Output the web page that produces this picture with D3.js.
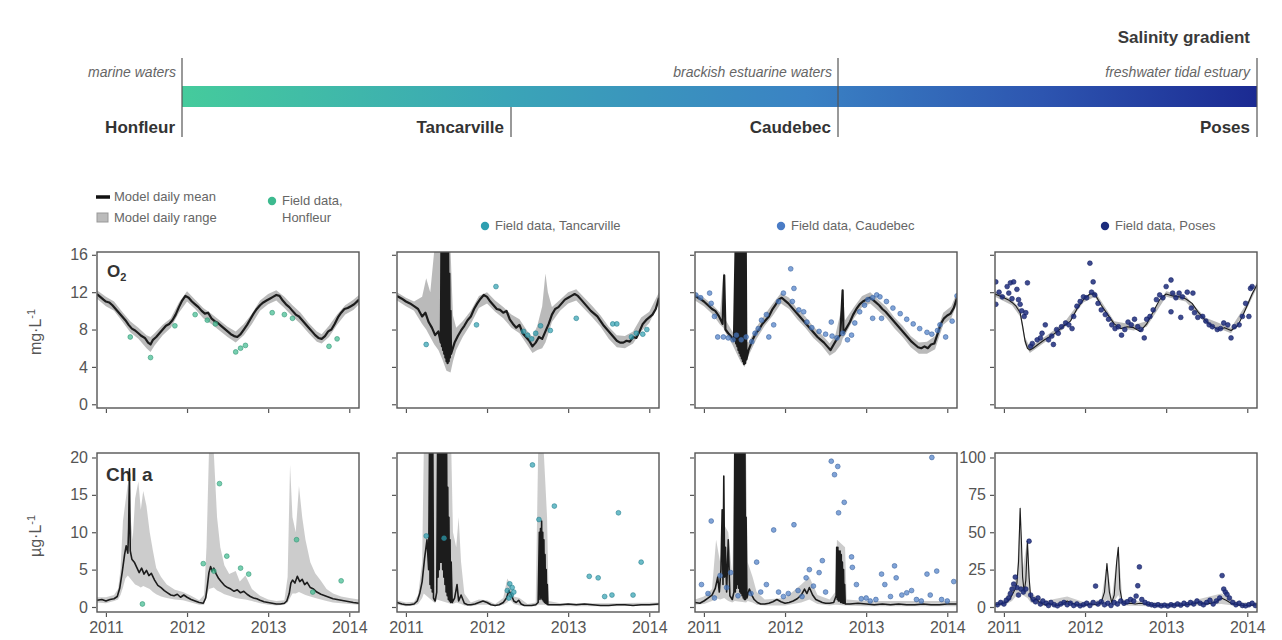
<!DOCTYPE html>
<html lang="en">
<head>
<meta charset="UTF-8">
<title>salinity-gradient</title>
<style>
    body { margin: 0; background: #fff; }
    svg { font-family: "Liberation Sans", Arial, sans-serif; }
    .tick line { stroke: #555; stroke-width: 1.2px; }
    .tick text { fill: #555; }
</style>
<script src="https://cdn.jsdelivr.net/npm/d3@7"></script>
</head>
<body>
<script>

// ---- stations / zones along the salinity gradient
let stations = ["Honfleur", "Tancarville", "Caudebec", "Poses"];
let zones = ["marine waters", "brackish estuarine waters", "freshwater tidal estuary"];
let years = [2011, 2012, 2013, 2014];
let o2Ticks = [0, 4, 8, 12, 16];
let chlTicks = [0, 5, 10, 15, 20];
let chlPosesTicks = [0, 25, 50, 75, 100];

// ---- O2 (mg/L): [decimal year, value] ; ranges [year, low, high]
let honO2Mean = [[2010.89,11.8],[2010.93,11.5],[2010.97,11.2],[2011.0,11.0],[2011.04,10.9],[2011.08,10.6],[2011.12,10.2],[2011.16,9.8],[2011.2,9.4],[2011.24,9.0],[2011.28,8.5],[2011.32,8.1],[2011.36,7.9],[2011.4,7.6],[2011.44,7.3],[2011.48,7.1],[2011.52,6.6],[2011.55,6.4],[2011.58,6.9],[2011.62,7.2],[2011.66,7.6],[2011.7,8.0],[2011.74,8.4],[2011.78,8.6],[2011.82,9.0],[2011.86,9.6],[2011.9,10.4],[2011.94,11.1],[2011.98,11.6],[2012.02,11.4],[2012.06,11.0],[2012.1,10.7],[2012.14,10.4],[2012.18,10.0],[2012.22,9.7],[2012.26,9.8],[2012.3,9.2],[2012.34,8.9],[2012.38,8.7],[2012.42,8.4],[2012.46,8.1],[2012.5,7.8],[2012.54,7.5],[2012.58,7.3],[2012.62,7.2],[2012.66,7.5],[2012.7,8.0],[2012.74,8.5],[2012.78,9.1],[2012.82,9.7],[2012.86,10.2],[2012.9,10.6],[2012.94,10.9],[2012.98,11.1],[2013.02,11.3],[2013.06,11.5],[2013.1,11.7],[2013.14,11.6],[2013.18,11.1],[2013.22,10.7],[2013.26,10.4],[2013.3,10.0],[2013.34,9.6],[2013.38,9.4],[2013.42,9.0],[2013.46,8.6],[2013.5,8.2],[2013.54,7.8],[2013.58,7.4],[2013.62,7.1],[2013.66,7.0],[2013.7,7.3],[2013.74,7.8],[2013.78,8.0],[2013.82,8.6],[2013.86,9.3],[2013.9,9.8],[2013.94,10.2],[2013.98,10.3],[2014.02,10.5],[2014.06,10.7],[2014.12,11.2]];
let honO2Range = [[2010.89,11.3,12.2],[2011.0,10.5,11.5],[2011.1,10.0,11.0],[2011.2,8.9,9.9],[2011.3,7.7,8.9],[2011.4,7.0,8.2],[2011.5,6.0,7.4],[2011.55,5.6,7.2],[2011.6,6.3,7.6],[2011.7,7.4,8.5],[2011.8,8.2,9.2],[2011.9,9.8,10.9],[2012.0,11.0,12.1],[2012.1,10.2,11.2],[2012.2,9.2,10.3],[2012.3,8.6,9.7],[2012.4,7.9,9.0],[2012.5,7.2,8.3],[2012.6,6.6,7.8],[2012.7,7.4,8.6],[2012.8,8.6,9.7],[2012.9,10.0,11.1],[2013.0,10.7,11.8],[2013.1,11.1,12.2],[2013.2,10.3,11.5],[2013.3,9.4,10.6],[2013.4,8.6,9.8],[2013.5,7.6,8.7],[2013.6,6.7,7.8],[2013.66,6.5,7.5],[2013.75,7.2,8.4],[2013.85,8.5,9.6],[2013.95,9.6,10.6],[2014.05,10.1,11.2],[2014.12,10.7,11.7]];
let honO2Field = [[2011.3,7.2],[2011.55,5.0],[2011.85,8.4],[2012.1,9.6],[2012.25,9.0],[2012.35,8.6],[2012.6,5.6],[2012.66,6.0],[2012.72,6.3],[2013.05,9.8],[2013.2,9.6],[2013.3,9.2],[2013.75,6.2],[2013.85,7.0]];

let tanO2Mean = [[2010.89,11.6],[2010.95,11.3],[2011.0,11.0],[2011.05,10.8],[2011.1,10.5],[2011.15,10.2],[2011.2,9.4],[2011.24,9.8],[2011.28,8.8],[2011.32,8.2],[2011.36,7.4],[2011.4,7.8],[2011.43,6.6],[2011.437,16.5],[2011.444,6.2],[2011.451,16.5],[2011.458,5.8],[2011.465,16.5],[2011.472,5.4],[2011.479,16.5],[2011.486,5.0],[2011.493,16.5],[2011.5,4.6],[2011.507,16.5],[2011.514,4.4],[2011.521,16.5],[2011.528,4.6],[2011.535,14.0],[2011.542,5.0],[2011.55,10.0],[2011.556,5.4],[2011.6,6.6],[2011.64,7.3],[2011.68,7.9],[2011.72,8.4],[2011.76,9.0],[2011.8,9.4],[2011.84,10.2],[2011.88,10.8],[2011.92,11.3],[2011.96,11.7],[2012.0,11.5],[2012.04,11.0],[2012.08,10.6],[2012.12,10.2],[2012.16,10.1],[2012.2,9.8],[2012.24,10.0],[2012.28,9.1],[2012.32,8.6],[2012.36,8.2],[2012.4,8.5],[2012.44,7.6],[2012.48,7.2],[2012.52,6.8],[2012.56,6.2],[2012.6,6.6],[2012.64,7.2],[2012.68,7.0],[2012.72,7.8],[2012.76,8.6],[2012.8,9.6],[2012.84,10.2],[2012.88,10.4],[2012.92,10.8],[2012.96,11.2],[2013.0,11.4],[2013.04,11.6],[2013.08,11.8],[2013.12,11.6],[2013.16,11.2],[2013.2,10.8],[2013.24,10.4],[2013.28,10.0],[2013.32,9.7],[2013.36,9.4],[2013.4,8.9],[2013.44,8.4],[2013.48,8.0],[2013.52,7.6],[2013.56,7.2],[2013.6,6.8],[2013.64,6.6],[2013.68,6.6],[2013.72,6.8],[2013.76,6.7],[2013.8,7.2],[2013.84,7.1],[2013.88,7.8],[2013.92,8.6],[2013.96,9.0],[2014.0,9.3],[2014.04,9.6],[2014.08,10.2],[2014.12,11.4]];
let tanO2Range = [[2010.89,11.1,12.0],[2011.0,10.5,11.4],[2011.1,10.0,11.0],[2011.2,8.6,11.5],[2011.25,8.0,13.5],[2011.3,7.2,12.0],[2011.35,6.4,16.5],[2011.4,5.8,16.5],[2011.45,4.8,16.5],[2011.5,3.6,16.5],[2011.55,3.4,16.5],[2011.58,4.6,9.5],[2011.62,5.8,8.2],[2011.7,7.2,8.9],[2011.8,8.6,10.0],[2011.9,10.3,11.6],[2012.0,10.8,12.0],[2012.1,9.9,11.1],[2012.2,9.2,10.4],[2012.3,8.2,9.6],[2012.4,7.6,9.1],[2012.5,6.3,7.8],[2012.56,5.5,7.2],[2012.62,5.8,8.4],[2012.68,6.0,10.5],[2012.72,6.6,14.0],[2012.75,7.4,12.0],[2012.8,8.8,10.4],[2012.9,10.0,11.2],[2013.0,10.8,12.0],[2013.1,11.1,12.3],[2013.2,10.2,11.4],[2013.3,9.3,10.5],[2013.4,8.3,9.5],[2013.5,7.0,8.3],[2013.6,6.1,7.4],[2013.7,6.0,7.3],[2013.8,6.5,7.8],[2013.9,7.8,9.3],[2014.0,8.7,9.9],[2014.12,10.8,12.0]];
let tanO2Field = [[2011.25,6.4],[2011.87,8.5],[2012.11,12.6],[2012.45,7.8],[2012.5,7.4],[2012.55,7.0],[2012.6,7.6],[2012.66,8.4],[2012.78,7.9],[2013.1,9.2],[2013.55,8.6],[2013.6,8.6],[2013.78,7.2],[2013.84,7.6],[2013.92,7.5],[2013.97,8.0]];

let cauO2Mean = [[2010.89,11.6],[2010.95,11.3],[2011.0,11.0],[2011.05,10.6],[2011.1,10.2],[2011.14,10.0],[2011.18,9.5],[2011.21,9.0],[2011.23,8.6],[2011.25,13.8],[2011.265,8.0],[2011.3,7.6],[2011.34,7.2],[2011.37,6.8],[2011.39,16.5],[2011.397,6.5],[2011.404,16.5],[2011.411,6.2],[2011.418,16.5],[2011.425,5.8],[2011.432,16.5],[2011.439,5.5],[2011.446,16.5],[2011.453,5.2],[2011.46,16.5],[2011.467,4.9],[2011.474,16.5],[2011.481,4.6],[2011.488,16.5],[2011.495,4.3],[2011.502,16.5],[2011.509,4.4],[2011.516,16.5],[2011.523,4.8],[2011.55,5.8],[2011.6,6.9],[2011.64,7.6],[2011.68,8.0],[2011.72,8.6],[2011.76,9.0],[2011.8,9.4],[2011.84,10.1],[2011.88,10.6],[2011.92,11.2],[2011.96,11.4],[2012.0,11.1],[2012.04,10.8],[2012.08,10.4],[2012.12,10.0],[2012.16,9.6],[2012.2,9.2],[2012.24,8.8],[2012.28,8.4],[2012.32,8.0],[2012.36,7.6],[2012.4,7.2],[2012.44,6.9],[2012.48,6.6],[2012.52,6.2],[2012.56,5.8],[2012.6,6.4],[2012.64,7.0],[2012.68,7.4],[2012.7,10.5],[2012.71,12.2],[2012.72,7.6],[2012.76,8.2],[2012.8,8.8],[2012.84,9.6],[2012.88,10.2],[2012.92,10.7],[2012.96,11.0],[2013.0,11.2],[2013.04,11.4],[2013.08,11.2],[2013.12,10.9],[2013.16,10.6],[2013.2,10.2],[2013.24,9.9],[2013.28,9.5],[2013.32,9.1],[2013.36,8.7],[2013.4,8.3],[2013.44,7.9],[2013.48,7.5],[2013.52,7.1],[2013.56,6.7],[2013.6,6.4],[2013.64,6.1],[2013.68,6.0],[2013.72,6.2],[2013.76,6.0],[2013.8,6.4],[2013.84,6.5],[2013.88,7.5],[2013.92,8.6],[2013.96,9.2],[2014.0,9.5],[2014.04,9.7],[2014.08,10.3],[2014.12,11.4]];
let cauO2Range = [[2010.89,11.1,12.0],[2011.0,10.5,11.4],[2011.1,9.7,10.7],[2011.2,8.5,9.8],[2011.24,8.2,14.2],[2011.27,7.6,9.0],[2011.35,6.4,7.8],[2011.45,4.6,7.2],[2011.5,4.0,6.8],[2011.55,5.2,6.6],[2011.65,7.0,8.3],[2011.75,8.4,9.6],[2011.85,9.5,10.8],[2011.95,10.8,11.9],[2012.05,10.2,11.4],[2012.15,9.1,10.2],[2012.25,8.2,9.4],[2012.35,7.1,8.3],[2012.45,6.3,7.5],[2012.55,5.2,6.5],[2012.62,5.6,7.4],[2012.69,6.4,10.0],[2012.71,7.0,12.4],[2012.74,7.4,9.0],[2012.85,9.2,10.4],[2012.95,10.4,11.6],[2013.05,10.8,12.0],[2013.15,10.0,11.2],[2013.25,9.2,10.4],[2013.35,8.1,9.3],[2013.45,7.2,8.4],[2013.55,6.1,7.3],[2013.65,5.4,6.6],[2013.75,5.4,6.7],[2013.85,5.9,7.3],[2013.95,8.5,9.8],[2014.05,9.2,10.5],[2014.12,10.8,12.0]];
let cauO2Field = [[2010.9,11.7],[2010.96,11.4],[2011.07,11.9],[2011.09,10.8],[2011.13,9.4],[2011.17,7.2],[2011.24,7.2],[2011.3,7.1],[2011.36,6.9],[2011.4,7.4],[2011.46,6.9],[2011.52,7.2],[2011.59,6.7],[2011.63,7.6],[2011.67,8.1],[2011.71,9.0],[2011.77,9.6],[2011.8,7.2],[2011.86,8.5],[2011.92,11.0],[2011.98,11.9],[2012.07,14.5],[2012.09,11.0],[2012.11,12.4],[2012.17,10.1],[2012.23,9.9],[2012.27,8.8],[2012.33,8.2],[2012.42,7.8],[2012.5,7.5],[2012.57,8.8],[2012.58,7.3],[2012.64,7.1],[2012.71,7.6],[2012.77,6.9],[2012.82,7.4],[2012.86,8.7],[2012.92,9.9],[2012.98,10.6],[2013.02,11.2],[2013.08,11.4],[2013.13,11.7],[2013.17,11.5],[2013.25,11.0],[2013.08,9.2],[2013.19,9.2],[2013.33,10.3],[2013.42,9.7],[2013.5,9.1],[2013.58,8.6],[2013.66,8.1],[2013.75,7.7],[2013.81,7.5],[2013.88,7.9],[2013.91,8.5],[2013.98,7.2],[2014.06,8.9],[2014.12,11.6]];

let posO2Mean = [[2010.89,11.8],[2010.95,11.6],[2011.0,11.4],[2011.05,11.2],[2011.1,10.9],[2011.15,10.5],[2011.2,9.8],[2011.23,8.4],[2011.26,6.8],[2011.29,6.0],[2011.32,5.8],[2011.36,6.0],[2011.42,6.4],[2011.5,6.9],[2011.58,7.3],[2011.66,7.8],[2011.74,8.4],[2011.82,8.9],[2011.9,10.2],[2011.98,11.2],[2012.06,11.8],[2012.12,11.8],[2012.2,10.6],[2012.28,9.6],[2012.36,8.6],[2012.44,8.1],[2012.52,8.3],[2012.6,8.2],[2012.68,7.8],[2012.76,8.6],[2012.84,9.9],[2012.92,11.2],[2013.0,11.8],[2013.08,11.6],[2013.16,11.5],[2013.24,11.3],[2013.32,10.8],[2013.4,9.8],[2013.48,9.0],[2013.56,8.4],[2013.64,8.0],[2013.72,8.2],[2013.8,7.9],[2013.88,8.4],[2013.94,9.4],[2014.0,10.6],[2014.06,11.8],[2014.12,12.8]];
let posO2Range = [[2010.89,11.5,12.1],[2011.1,10.6,11.2],[2011.2,9.4,10.2],[2011.26,6.4,7.2],[2011.32,5.5,6.1],[2011.5,6.6,7.2],[2011.74,8.1,8.7],[2011.98,10.9,11.5],[2012.12,11.5,12.1],[2012.36,8.3,8.9],[2012.6,7.9,8.5],[2012.76,8.3,8.9],[2013.0,11.5,12.1],[2013.24,11.0,11.6],[2013.48,8.7,9.3],[2013.8,7.6,8.2],[2014.0,10.3,10.9],[2014.12,12.5,13.1]];
let posO2Field = [[2010.90,13.1],[2010.94,12.0],[2010.98,11.5],[2010.90,10.7],[2011.04,12.6],[2011.06,11.9],[2011.10,11.3],[2011.08,13.0],[2011.12,13.1],[2011.16,12.3],[2011.18,11.2],[2011.20,10.7],[2011.22,10.0],[2011.25,9.4],[2011.29,13.0],[2011.27,9.8],[2011.33,6.2],[2011.35,6.5],[2011.41,6.9],[2011.45,7.1],[2011.47,7.6],[2011.51,8.5],[2011.55,6.9],[2011.59,7.3],[2011.61,6.4],[2011.65,8.0],[2011.67,7.6],[2011.71,8.3],[2011.76,8.7],[2011.80,8.5],[2011.84,8.1],[2011.86,9.4],[2011.90,10.5],[2011.94,11.0],[2011.98,11.5],[2012.02,11.4],[2012.06,15.1],[2012.10,13.1],[2012.08,12.0],[2012.12,11.7],[2012.16,10.8],[2012.20,10.1],[2012.25,9.6],[2012.29,9.1],[2012.33,8.5],[2012.37,8.1],[2012.41,8.3],[2012.45,7.4],[2012.49,8.0],[2012.53,8.8],[2012.57,8.5],[2012.61,9.1],[2012.65,8.3],[2012.69,8.0],[2012.73,7.1],[2012.76,9.1],[2012.80,9.4],[2012.84,10.1],[2012.88,11.2],[2012.92,11.7],[2012.96,11.4],[2013.00,12.6],[2013.06,13.3],[2013.08,11.9],[2013.06,9.9],[2013.12,11.4],[2013.16,11.9],[2013.20,11.5],[2013.26,12.0],[2013.33,11.9],[2013.18,9.3],[2013.31,10.3],[2013.35,9.8],[2013.39,9.3],[2013.45,9.4],[2013.49,8.9],[2013.53,8.5],[2013.57,8.3],[2013.63,8.0],[2013.67,8.1],[2013.71,8.7],[2013.76,8.5],[2013.80,7.1],[2013.84,8.3],[2013.90,8.5],[2013.94,9.4],[2013.98,10.8],[2014.02,9.4],[2014.04,12.4],[2014.06,12.6]];

// ---- Chl a (ug/L)
let honChlMean = [[2010.89,0.9],[2010.95,1.0],[2011.0,0.8],[2011.05,1.0],[2011.1,1.1],[2011.14,1.4],[2011.17,2.5],[2011.2,4.6],[2011.23,7.0],[2011.25,8.2],[2011.27,7.2],[2011.28,10.5],[2011.29,18.5],[2011.3,7.5],[2011.32,6.4],[2011.35,6.0],[2011.38,5.3],[2011.41,4.6],[2011.44,5.2],[2011.47,4.4],[2011.5,4.9],[2011.53,4.2],[2011.56,4.5],[2011.6,3.6],[2011.64,2.9],[2011.68,2.6],[2011.72,2.2],[2011.76,1.9],[2011.8,1.6],[2011.84,1.5],[2011.88,1.7],[2011.92,1.3],[2011.96,1.6],[2012.0,1.3],[2012.05,1.0],[2012.1,0.8],[2012.15,0.6],[2012.2,0.5],[2012.23,1.2],[2012.25,2.8],[2012.27,4.6],[2012.29,5.4],[2012.31,4.8],[2012.33,5.2],[2012.36,4.4],[2012.39,3.8],[2012.42,3.4],[2012.46,2.9],[2012.5,2.6],[2012.54,2.4],[2012.58,2.1],[2012.62,2.3],[2012.66,1.9],[2012.7,2.1],[2012.74,1.7],[2012.78,1.4],[2012.82,1.2],[2012.86,1.1],[2012.9,0.9],[2012.95,0.7],[2013.0,0.6],[2013.05,0.5],[2013.1,0.4],[2013.15,0.4],[2013.2,0.5],[2013.23,0.8],[2013.26,1.8],[2013.28,3.2],[2013.3,3.6],[2013.33,3.2],[2013.36,4.1],[2013.39,3.4],[2013.42,3.7],[2013.45,3.0],[2013.48,3.3],[2013.52,2.6],[2013.56,2.4],[2013.6,2.0],[2013.65,1.7],[2013.7,1.5],[2013.75,1.3],[2013.8,1.1],[2013.85,1.0],[2013.9,0.9],[2013.95,0.8],[2014.0,0.7],[2014.05,0.6],[2014.12,0.5]];
let honChlRange = [[2010.89,0.6,1.3],[2011.0,0.5,1.3],[2011.1,0.8,1.6],[2011.15,1.0,2.4],[2011.18,1.6,5.0],[2011.21,2.6,11.5],[2011.24,3.8,14.0],[2011.27,4.2,16.5],[2011.3,3.8,12.5],[2011.33,3.4,9.0],[2011.36,3.0,14.5],[2011.4,2.8,16.8],[2011.43,2.6,13.0],[2011.46,2.8,15.5],[2011.5,2.6,13.5],[2011.54,2.4,10.0],[2011.58,2.0,7.5],[2011.62,1.7,5.2],[2011.68,1.4,4.0],[2011.75,1.2,3.0],[2011.85,1.0,2.3],[2011.95,0.9,2.0],[2012.05,0.6,1.5],[2012.15,0.3,0.9],[2012.21,0.3,1.6],[2012.24,1.4,8.0],[2012.27,2.4,20.6],[2012.33,2.6,20.6],[2012.37,2.2,12.0],[2012.41,2.0,8.0],[2012.46,1.7,5.6],[2012.52,1.5,4.4],[2012.6,1.2,4.8],[2012.65,1.1,3.4],[2012.72,1.0,4.2],[2012.8,0.8,2.4],[2012.9,0.5,1.5],[2013.0,0.3,1.0],[2013.1,0.2,0.8],[2013.2,0.3,0.9],[2013.24,0.6,4.0],[2013.27,1.2,19.0],[2013.3,1.8,12.0],[2013.34,1.8,10.0],[2013.38,2.0,16.2],[2013.42,1.8,12.0],[2013.46,1.6,9.0],[2013.52,1.4,6.0],[2013.58,1.2,4.5],[2013.65,1.0,3.5],[2013.72,0.8,2.4],[2013.8,0.6,1.8],[2013.9,0.5,1.4],[2014.0,0.4,1.2],[2014.12,0.3,1.0]];
let honChlField = [[2011.45,0.4],[2012.2,5.8],[2012.33,4.8],[2012.4,16.5],[2012.49,6.8],[2012.66,5.2],[2012.76,4.4],[2013.35,9.0],[2013.55,2.0],[2013.9,3.5]];

let tanChlMean = [[2010.89,0.6],[2010.95,0.4],[2011.0,0.3],[2011.05,0.3],[2011.1,0.4],[2011.14,0.8],[2011.17,1.8],[2011.2,3.4],[2011.23,6.5],[2011.26,9.0],[2011.28,5.0],[2011.29,20.6],[2011.297,3.0],[2011.304,20.6],[2011.311,2.5],[2011.318,20.6],[2011.325,2.0],[2011.332,20.6],[2011.34,1.2],[2011.36,0.8],[2011.38,2.0],[2011.39,20.6],[2011.397,4.0],[2011.404,20.6],[2011.411,5.0],[2011.418,20.6],[2011.425,6.0],[2011.432,20.6],[2011.439,6.0],[2011.446,20.6],[2011.453,5.0],[2011.46,20.6],[2011.467,4.0],[2011.474,20.6],[2011.481,3.0],[2011.488,20.6],[2011.495,2.0],[2011.502,20.6],[2011.509,1.5],[2011.516,16.0],[2011.523,1.0],[2011.53,12.0],[2011.537,0.8],[2011.544,9.0],[2011.551,0.6],[2011.558,6.0],[2011.57,0.6],[2011.6,1.2],[2011.63,3.0],[2011.65,0.8],[2011.68,1.6],[2011.72,0.5],[2011.76,0.3],[2011.8,0.3],[2011.85,0.4],[2011.9,0.6],[2011.95,0.8],[2012.0,0.6],[2012.05,0.3],[2012.1,0.2],[2012.15,0.3],[2012.2,0.6],[2012.24,1.2],[2012.27,2.2],[2012.3,1.6],[2012.33,0.8],[2012.36,0.6],[2012.39,0.9],[2012.42,0.4],[2012.46,0.2],[2012.5,0.2],[2012.55,0.2],[2012.6,0.3],[2012.63,0.6],[2012.645,10.0],[2012.652,1.0],[2012.659,10.5],[2012.666,1.2],[2012.673,11.5],[2012.68,1.0],[2012.687,10.0],[2012.694,0.8],[2012.701,9.0],[2012.708,0.6],[2012.715,7.0],[2012.722,0.5],[2012.729,5.0],[2012.736,0.4],[2012.743,3.0],[2012.75,0.3],[2012.8,0.3],[2012.85,0.3],[2012.9,0.3],[2013.0,0.4],[2013.1,0.3],[2013.2,0.4],[2013.3,0.3],[2013.4,0.2],[2013.5,0.2],[2013.6,0.3],[2013.7,0.3],[2013.8,0.2],[2013.9,0.3],[2014.0,0.3],[2014.12,0.4]];
let tanChlRange = [[2010.89,0.3,0.9],[2011.0,0.1,0.6],[2011.1,0.2,0.7],[2011.15,0.4,1.6],[2011.2,1.2,6.0],[2011.22,1.8,20.6],[2011.36,0.5,20.6],[2011.38,1.0,20.6],[2011.56,0.4,20.6],[2011.58,0.4,10.0],[2011.62,0.6,8.0],[2011.65,0.5,12.0],[2011.68,0.4,6.0],[2011.72,0.2,1.8],[2011.8,0.1,0.6],[2011.9,0.3,1.0],[2012.0,0.3,0.9],[2012.1,0.1,0.4],[2012.2,0.3,1.2],[2012.25,0.6,3.8],[2012.28,1.0,3.2],[2012.33,0.4,1.4],[2012.4,0.2,1.2],[2012.5,0.1,0.4],[2012.6,0.1,0.6],[2012.63,0.3,20.6],[2012.7,0.3,20.6],[2012.74,0.2,12.0],[2012.76,0.2,0.8],[2012.9,0.1,0.5],[2013.5,0.1,0.5],[2014.12,0.2,0.6]];
let tanChlField = [[2011.25,9.5],[2011.47,9.2],[2012.25,2.2],[2012.27,1.2],[2012.28,3.1],[2012.3,1.6],[2012.31,2.6],[2012.33,2.0],[2012.56,19.0],[2012.64,11.7],[2012.83,13.5],[2013.26,4.1],[2013.37,3.9],[2013.45,1.4],[2013.54,1.6],[2013.62,12.6],[2013.8,1.6],[2013.9,6.0]];

let cauChlMean = [[2010.89,0.6],[2010.95,0.5],[2011.0,0.8],[2011.05,1.2],[2011.1,1.6],[2011.14,2.5],[2011.17,4.0],[2011.19,2.0],[2011.21,5.0],[2011.225,13.0],[2011.235,3.0],[2011.245,17.5],[2011.255,4.0],[2011.265,8.0],[2011.28,2.0],[2011.3,9.0],[2011.32,1.5],[2011.35,1.0],[2011.37,2.0],[2011.38,20.6],[2011.387,2.0],[2011.394,20.6],[2011.401,2.5],[2011.408,20.6],[2011.415,3.0],[2011.422,20.6],[2011.429,2.5],[2011.436,20.6],[2011.443,2.0],[2011.45,20.6],[2011.457,1.8],[2011.464,20.6],[2011.471,1.5],[2011.478,20.6],[2011.485,1.2],[2011.492,20.6],[2011.499,1.0],[2011.506,20.6],[2011.513,1.0],[2011.52,12.0],[2011.53,1.2],[2011.56,2.4],[2011.59,1.6],[2011.62,1.0],[2011.66,0.6],[2011.7,0.4],[2011.75,0.4],[2011.8,0.5],[2011.85,0.7],[2011.9,1.0],[2011.95,0.7],[2012.0,0.5],[2012.05,0.6],[2012.1,0.8],[2012.15,1.1],[2012.2,1.6],[2012.24,2.4],[2012.27,1.8],[2012.3,2.6],[2012.34,1.6],[2012.38,1.0],[2012.42,0.8],[2012.46,0.6],[2012.5,0.5],[2012.55,0.5],[2012.6,0.6],[2012.63,1.5],[2012.637,8.0],[2012.644,1.0],[2012.651,8.0],[2012.658,0.8],[2012.665,7.5],[2012.672,0.8],[2012.679,7.5],[2012.686,0.6],[2012.693,7.0],[2012.7,0.6],[2012.707,6.0],[2012.714,0.5],[2012.721,5.0],[2012.728,0.5],[2012.735,3.0],[2012.742,0.4],[2012.8,0.4],[2012.9,0.5],[2013.0,0.4],[2013.1,0.3],[2013.2,0.4],[2013.3,0.3],[2013.4,0.4],[2013.5,0.3],[2013.6,0.3],[2013.7,0.4],[2013.8,0.3],[2013.9,0.3],[2014.0,0.4],[2014.12,0.4]];
let cauChlRange = [[2010.89,0.3,1.0],[2011.0,0.4,1.4],[2011.1,0.8,2.4],[2011.15,1.2,9.0],[2011.2,1.0,6.0],[2011.25,1.2,11.0],[2011.3,0.8,10.0],[2011.35,0.6,4.0],[2011.38,0.8,20.6],[2011.52,0.6,20.6],[2011.54,0.8,6.0],[2011.6,0.6,4.0],[2011.65,0.3,2.0],[2011.75,0.2,1.0],[2012.0,0.2,1.2],[2012.2,0.6,3.0],[2012.3,1.0,4.0],[2012.4,0.4,1.6],[2012.55,0.2,1.0],[2012.62,0.3,2.0],[2012.64,0.3,9.0],[2012.74,0.2,8.0],[2012.76,0.2,1.0],[2013.0,0.1,0.8],[2014.12,0.1,0.8]];
let cauChlField = [[2010.97,3.0],[2011.05,1.8],[2011.09,11.5],[2011.13,1.2],[2011.2,4.2],[2011.28,2.6],[2011.33,4.6],[2011.42,1.5],[2011.58,1.8],[2011.65,6.0],[2011.7,2.0],[2011.77,3.0],[2011.86,10.3],[2011.92,2.0],[2011.98,1.4],[2012.04,1.8],[2012.11,11.0],[2012.16,2.2],[2012.21,1.4],[2012.26,3.9],[2012.3,5.0],[2012.35,2.8],[2012.42,4.6],[2012.46,6.2],[2012.5,2.0],[2012.57,19.5],[2012.61,17.7],[2012.65,18.8],[2012.66,12.6],[2012.73,14.0],[2012.82,6.7],[2012.83,5.3],[2012.88,3.0],[2012.94,1.1],[2013.0,1.2],[2013.05,0.8],[2013.12,1.0],[2013.19,4.4],[2013.23,3.0],[2013.3,1.4],[2013.35,5.5],[2013.37,3.9],[2013.44,1.6],[2013.5,1.9],[2013.56,2.2],[2013.62,1.0],[2013.68,0.8],[2013.75,4.4],[2013.79,1.6],[2013.81,20.0],[2013.87,4.8],[2013.93,1.0],[2014.0,0.8],[2014.08,3.4]];

let posChlMean = [[2010.89,1.5],[2010.95,2.0],[2011.0,2.5],[2011.04,3.5],[2011.08,6.0],[2011.11,9.0],[2011.14,12.0],[2011.16,16.0],[2011.18,30.0],[2011.2,66.0],[2011.215,45.0],[2011.23,20.0],[2011.25,10.0],[2011.27,18.0],[2011.29,44.0],[2011.31,20.0],[2011.33,6.0],[2011.36,4.0],[2011.4,5.5],[2011.44,3.0],[2011.48,2.0],[2011.52,1.5],[2011.56,2.5],[2011.6,1.5],[2011.66,1.0],[2011.72,2.0],[2011.78,4.0],[2011.84,2.5],[2011.9,1.5],[2011.96,1.0],[2012.02,1.5],[2012.08,2.0],[2012.14,1.5],[2012.2,3.0],[2012.24,10.0],[2012.27,29.0],[2012.3,10.0],[2012.33,3.0],[2012.36,8.0],[2012.39,30.0],[2012.41,40.0],[2012.43,12.0],[2012.46,3.0],[2012.5,2.0],[2012.56,2.5],[2012.62,2.0],[2012.68,2.5],[2012.74,2.0],[2012.8,1.5],[2012.86,1.0],[2012.92,1.0],[2013.0,1.2],[2013.08,1.5],[2013.16,1.2],[2013.24,1.5],[2013.32,2.0],[2013.4,3.0],[2013.48,2.0],[2013.56,2.5],[2013.62,3.5],[2013.68,6.0],[2013.74,4.5],[2013.8,2.5],[2013.88,1.5],[2013.96,1.0],[2014.04,1.2],[2014.12,1.5]];
let posChlRange = [[2010.89,0.5,3.0],[2011.0,1.0,4.5],[2011.1,4.0,14.0],[2011.16,8.0,20.0],[2011.2,10.0,68.0],[2011.23,8.0,24.0],[2011.29,6.0,46.0],[2011.33,3.0,9.0],[2011.5,0.5,4.0],[2011.78,1.5,7.0],[2012.0,0.5,3.0],[2012.2,1.0,5.0],[2012.27,5.0,30.0],[2012.33,1.0,6.0],[2012.41,8.0,42.0],[2012.46,1.0,5.0],[2012.8,0.5,3.0],[2013.2,0.5,2.5],[2013.68,2.0,9.0],[2013.9,0.5,3.0],[2014.12,0.5,3.0]];
let posChlField = [[2010.92,1.5],[2010.96,3.0],[2011.0,2.0],[2011.03,4.5],[2011.06,6.0],[2011.08,9.0],[2011.1,12.0],[2011.12,15.3],[2011.14,20.0],[2011.16,13.0],[2011.18,8.0],[2011.21,12.0],[2011.24,10.0],[2011.27,12.0],[2011.31,44.0],[2011.33,8.0],[2011.36,5.0],[2011.39,3.5],[2011.42,6.0],[2011.45,2.0],[2011.48,4.0],[2011.52,2.5],[2011.55,1.0],[2011.58,3.0],[2011.62,1.5],[2011.66,0.8],[2011.7,2.0],[2011.74,3.0],[2011.78,1.5],[2011.82,2.5],[2011.86,1.0],[2011.9,2.0],[2011.94,0.8],[2011.98,1.5],[2012.02,2.5],[2012.06,1.0],[2012.1,3.0],[2012.13,14.0],[2012.16,2.0],[2012.2,3.5],[2012.24,1.5],[2012.28,2.5],[2012.32,1.0],[2012.36,3.0],[2012.4,2.0],[2012.44,4.0],[2012.48,2.5],[2012.52,3.5],[2012.56,5.0],[2012.6,4.0],[2012.63,7.3],[2012.65,14.2],[2012.67,26.8],[2012.7,5.0],[2012.74,3.0],[2012.78,2.0],[2012.82,1.5],[2012.86,1.0],[2012.9,1.5],[2012.94,0.8],[2012.98,1.2],[2013.02,0.6],[2013.06,1.5],[2013.1,1.0],[2013.14,2.0],[2013.18,1.2],[2013.22,2.5],[2013.26,1.5],[2013.3,3.0],[2013.34,2.0],[2013.38,4.0],[2013.42,2.5],[2013.46,1.5],[2013.5,3.0],[2013.54,4.5],[2013.58,2.0],[2013.62,4.0],[2013.66,6.0],[2013.69,21.0],[2013.71,12.0],[2013.73,10.0],[2013.75,8.5],[2013.78,6.0],[2013.82,3.0],[2013.86,1.5],[2013.9,2.5],[2013.94,1.0],[2013.98,0.8],[2014.02,1.5],[2014.06,2.5],[2014.1,1.0]];

// ---- layout
let width = 1282, height = 640;
let stationColor = ["#3dba8f", "#2e9fb0", "#4a7cc6", "#1c2c7c"];
let panelLeft = [97, 397, 695, 995];
let panelW = 262;
let rowBox = [{ top: 252, bottom: 408 }, { top: 453, bottom: 612 }];

let svg = d3.select("body").append("svg")
    .attr("width", width)
    .attr("height", height);

svg.append("rect").attr("width", width).attr("height", height).attr("fill", "#fff");

let defs = svg.append("defs");

// ---------- salinity gradient bar
let grad = defs.append("linearGradient").attr("id", "salGrad")
    .attr("x1", "0%").attr("x2", "100%").attr("y1", "0%").attr("y2", "0%");
[["0%", "#45cb9c"], ["30%", "#3aa5b7"], ["58%", "#3a82c4"], ["80%", "#2d55b0"], ["100%", "#1b2a92"]]
    .forEach(s => grad.append("stop").attr("offset", s[0]).attr("stop-color", s[1]));

let stationX = [182, 511, 838, 1257];
let barTop = 86, barH = 21;

svg.append("rect")
    .attr("x", stationX[0]).attr("y", barTop)
    .attr("width", stationX[3] - stationX[0]).attr("height", barH)
    .attr("fill", "url(#salGrad)");

svg.append("text")
    .attr("x", 1250).attr("y", 43)
    .attr("text-anchor", "end")
    .style("font-weight", "bold").style("font-size", "17px").style("fill", "#3a3a3a")
    .text("Salinity gradient");

stations.forEach((s, i) => {
    svg.append("line")
        .attr("x1", stationX[i]).attr("x2", stationX[i])
        .attr("y1", i === 1 ? barTop + barH : 58).attr("y2", 137)
        .attr("stroke", "#555").attr("stroke-width", 1.2);
    svg.append("text")
        .attr("x", stationX[i] - 7).attr("y", 133)
        .attr("text-anchor", "end")
        .style("font-weight", "bold").style("font-size", "17px").style("fill", "#333")
        .text(s);
});

let zoneEnd = [176, 832, 1250];
zones.forEach((z, i) => {
    svg.append("text")
        .attr("x", zoneEnd[i]).attr("y", 77)
        .attr("text-anchor", "end")
        .style("font-style", "italic").style("font-size", "14px").style("fill", "#666")
        .text(z);
});

// ---------- legend
let lg = svg.append("g").style("font-size", "13px").style("fill", "#666");
lg.append("line").attr("x1", 96).attr("x2", 110).attr("y1", 197).attr("y2", 197)
    .attr("stroke", "#111").attr("stroke-width", 3.5);
lg.append("text").attr("x", 114).attr("y", 201).text("Model daily mean");
lg.append("rect").attr("x", 97).attr("y", 213).attr("width", 11).attr("height", 9)
    .attr("fill", "#bbb").attr("stroke", "#999");
lg.append("text").attr("x", 114).attr("y", 222).text("Model daily range");

let legendDot = [[272, 201], [485, 226], [781, 226], [1105, 226]];
stations.forEach((s, i) => {
    lg.append("circle").attr("cx", legendDot[i][0]).attr("cy", legendDot[i][1]).attr("r", 4.2)
        .attr("fill", stationColor[i]);
    if (i === 0) {
        lg.append("text").attr("x", 282).attr("y", 205).text("Field data,");
        lg.append("text").attr("x", 282).attr("y", 222).text(s);
    } else {
        lg.append("text").attr("x", legendDot[i][0] + 10).attr("y", legendDot[i][1] + 4)
            .text("Field data, " + s);
    }
});

// panel titles (drawn first so the model lines pass over them)
let o2Label = svg.append("text").attr("x", 107).attr("y", 277)
    .style("font-weight", "bold").style("font-size", "17px").style("fill", "#333");
o2Label.append("tspan").text("O");
o2Label.append("tspan").attr("dy", 4).style("font-size", "11px").text("2");

svg.append("text").attr("x", 106).attr("y", 481)
    .style("font-weight", "bold").style("font-size", "19px").style("fill", "#333")
    .text("Chl a");

// ---------- panels
let yO2 = d3.scaleLinear().domain([-0.4, 16.3]).range([rowBox[0].bottom, rowBox[0].top]);
let yChl = d3.scaleLinear().domain([-0.67, 20.6]).range([rowBox[1].bottom, rowBox[1].top]);
let yChlPoses = d3.scaleLinear().domain([-3.35, 103]).range([rowBox[1].bottom, rowBox[1].top]);

let panels = [
    { row: 0, col: 0, y: yO2, ticks: o2Ticks, mean: honO2Mean, range: honO2Range, field: honO2Field, lab: true },
    { row: 0, col: 1, y: yO2, ticks: o2Ticks, mean: tanO2Mean, range: tanO2Range, field: tanO2Field },
    { row: 0, col: 2, y: yO2, ticks: o2Ticks, mean: cauO2Mean, range: cauO2Range, field: cauO2Field },
    { row: 0, col: 3, y: yO2, ticks: o2Ticks, mean: posO2Mean, range: posO2Range, field: posO2Field, thin: true },
    { row: 1, col: 0, y: yChl, ticks: chlTicks, mean: honChlMean, range: honChlRange, field: honChlField, lab: true },
    { row: 1, col: 1, y: yChl, ticks: chlTicks, mean: tanChlMean, range: tanChlRange, field: tanChlField },
    { row: 1, col: 2, y: yChl, ticks: chlTicks, mean: cauChlMean, range: cauChlRange, field: cauChlField },
    { row: 1, col: 3, y: yChlPoses, ticks: chlPosesTicks, mean: posChlMean, range: posChlRange, field: posChlField, lab: true, thin: true }
];

panels.forEach((p, k) => {
    let box = rowBox[p.row];
    let left = panelLeft[p.col];
    let x = d3.scaleLinear().domain([2010.89, 2014.12]).range([left, left + panelW]);
    let y = p.y;

    defs.append("clipPath").attr("id", "clip" + k)
        .append("rect").attr("x", left).attr("y", box.top)
        .attr("width", panelW).attr("height", box.bottom - box.top);

    let g = svg.append("g");
    let plot = g.append("g").attr("clip-path", "url(#clip" + k + ")");

    let area = d3.area()
        .x(d => x(d[0])).y0(d => y(d[1])).y1(d => y(d[2]));
    let line = d3.line()
        .x(d => x(d[0])).y(d => y(d[1]));

    plot.append("path").datum(p.range)
        .attr("d", area)
        .attr("fill", p.row === 0 ? "#b3b3b3" : "#c6c6c6").attr("opacity", 0.9);

    plot.append("path").datum(p.mean)
        .attr("d", line)
        .attr("fill", "none")
        .attr("stroke", "#1c1c1c")
        .attr("stroke-width", p.thin ? 1.1 : (p.row === 0 ? 2.2 : 1.6))
        .attr("stroke-linejoin", "round");

    plot.selectAll("circle").data(p.field).enter().append("circle")
        .attr("cx", d => x(d[0])).attr("cy", d => y(d[1]))
        .attr("r", 2.4)
        .attr("fill", stationColor[p.col]).attr("fill-opacity", p.col === 3 ? 0.85 : 0.7)
        .attr("stroke", d3.color(stationColor[p.col]).darker(0.6)).attr("stroke-width", 0.6);

    // frame
    g.append("rect")
        .attr("x", left).attr("y", box.top)
        .attr("width", panelW).attr("height", box.bottom - box.top)
        .attr("fill", "none").attr("stroke", "#555").attr("stroke-width", 1.4);

    // axes
    let ya = g.append("g").attr("transform", "translate(" + (left - 1) + ",0)")
        .call(d3.axisLeft(y).tickValues(p.ticks).tickSize(4).tickPadding(4)
            .tickFormat(p.lab ? d3.format("d") : ""));
    ya.select(".domain").remove();
    ya.selectAll("text").style("font-size", "16px");

    let xa = g.append("g").attr("transform", "translate(0," + (box.bottom + 1) + ")")
        .call(d3.axisBottom(x).tickValues(years).tickSize(4).tickPadding(5)
            .tickFormat(p.row === 1 ? d3.format("d") : ""));
    xa.select(".domain").remove();
    xa.selectAll("text").style("font-size", "16px");
});

// y-axis titles
function unitTitle(txt, cy) {
    let t = svg.append("text")
        .attr("transform", "translate(41," + cy + ") rotate(-90)")
        .attr("text-anchor", "middle")
        .style("font-size", "16px").style("fill", "#555");
    t.append("tspan").text(txt);
    t.append("tspan").attr("dy", -6).style("font-size", "11px").text("-1");
}
unitTitle("mg·L", 332);
unitTitle("µg·L", 536);

</script>
</body>
</html>
